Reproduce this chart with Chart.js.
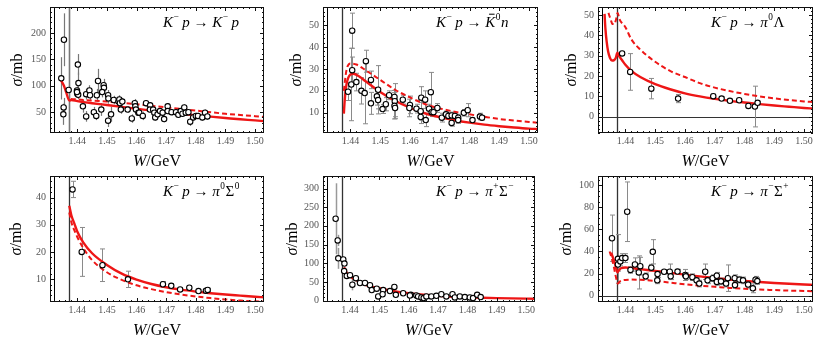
<!DOCTYPE html>
<html>
<head>
<meta charset="utf-8">
<script src="https://cdn.jsdelivr.net/npm/chart.js@4"></script>
<style>
  html, body { margin: 0; padding: 0; background: #fff; }
  body { position: relative; width: 822px; height: 339px; overflow: hidden; }
  canvas { position: absolute; }
</style>
</head>
<body>
<canvas id="c1"></canvas>
<canvas id="c2"></canvas>
<canvas id="c3"></canvas>
<canvas id="c4"></canvas>
<canvas id="c5"></canvas>
<canvas id="c6"></canvas>
<script>
// ---- shared ----
const wMin = 1.4308, wMax = 1.5030;
const xTicks = [1.44, 1.45, 1.46, 1.47, 1.48, 1.49, 1.50];
const thresholds = [1.4320, 1.4373]; // K- p and Kbar0 n thresholds

// ---- K- p -> K- p ----
const kpW = [1.4346, 1.4355, 1.4354, 1.4353, 1.4371, 1.4402, 1.4404, 1.4399, 1.4400, 1.4403, 1.4399, 1.4419, 1.4430, 1.4430,
  1.4441, 1.4443, 1.4456, 1.4464, 1.4466, 1.4470, 1.4481, 1.4489, 1.4490, 1.4484, 1.4504, 1.4505, 1.4504, 1.4514, 1.4523,
  1.4539, 1.4542, 1.4544, 1.4547, 1.4552, 1.4570, 1.4584, 1.4594, 1.4596, 1.4598, 1.4606, 1.4609, 1.4621, 1.4632, 1.4646,
  1.4645, 1.4656, 1.4660, 1.4663, 1.4671, 1.4679, 1.4688, 1.4693, 1.4705, 1.4705, 1.4718, 1.4733, 1.4741, 1.4749, 1.4755,
  1.4761, 1.4766, 1.4775, 1.4781, 1.4791, 1.4800, 1.4807, 1.4822, 1.4831, 1.4839];
const kpSigma = [114, 187, 59, 46, 92, 140, 105, 91, 85, 83, 88, 61, 42, 84,
  91, 82, 50, 43, 82, 109, 55, 101, 96, 88, 82, 76, 34, 46, 73,
  70, 74, 67, 55, 70, 55, 38, 67, 61, 55, 49, 49, 43, 67, 63,
  55, 55, 49, 40, 46, 52, 49, 37, 61, 52, 50, 50, 45, 52, 47,
  59, 49, 50, 32, 40, 43, 43, 40, 49, 42];
const kpErr = [40, 50, 18, 20, 200, 20, 20, 8, 8, 8, 8, 12, 10, 10,
  10, 10, 10, 8, 12, 23, 12, 12, 12, 10, 10, 10, 12, 14, 8,
  8, 8, 8, 8, 6, 6, 8, 8, 6, 6, 6, 6, 8, 6, 6,
  6, 6, 6, 6, 6, 6, 6, 6, 6, 6, 6, 6, 6, 6, 6,
  6, 6, 6, 8, 6, 6, 6, 6, 6, 6];
const kpSolidW = [1.4341, 1.4355, 1.4363, 1.4373, 1.4380, 1.4400, 1.4450, 1.4500, 1.4550, 1.4600, 1.4650, 1.4700, 1.4750, 1.4800, 1.4850, 1.4900, 1.4950, 1.5000, 1.5030];
const kpSolid = [114, 100, 87, 72, 73, 71, 67, 63.5, 60, 56.5, 53, 50, 47, 44, 41.5, 39, 36.5, 34.5, 33];
const kpDashW = [1.4378, 1.4400, 1.4500, 1.4600, 1.4700, 1.4800, 1.4900, 1.5000, 1.5030];
const kpDash = [75, 74, 70, 65, 59, 53, 47, 42.5, 41];
const kpTicks = [50, 100, 150, 200];

// ---- K- p -> Kbar0 n ----
const knW = [1.4392, 1.4406, 1.4406, 1.4403, 1.4420, 1.4437, 1.4448, 1.4452, 1.4469, 1.4469, 1.4489, 1.4493, 1.4493, 1.4508,
  1.4519, 1.4530, 1.4548, 1.4549, 1.4548, 1.4550, 1.4576, 1.4600, 1.4598, 1.4622, 1.4638, 1.4636, 1.4636, 1.4651, 1.4653,
  1.4670, 1.4664, 1.4673, 1.4679, 1.4692, 1.4707, 1.4721, 1.4729, 1.4740, 1.4740, 1.4751, 1.4762, 1.4762, 1.4781, 1.4794,
  1.4810, 1.4835, 1.4842];
const knSigma = [19.6, 47.4, 29.4, 22.9, 24, 20, 19, 33.5, 25, 14.3, 17.5, 20.5, 15.8, 11.7,
  13.9, 18, 17.2, 15.3, 13.2, 12.2, 16, 13.6, 12.2, 11.9, 16.9, 10.7, 8.1, 16, 6.7,
  19.4, 11.9, 10.3, 10.3, 12.2, 7.8, 9.3, 8.6, 8.8, 5.4, 8.6, 7.8, 6.7, 10, 11.2,
  6.7, 8.3, 7.8];
const knErr = [4, 8, 6, 16.5, 4, 6, 14, 5, 4, 5, 4, 11, 4, 2,
  3, 2, 3, 8, 6, 4, 2, 4, 4, 2, 5, 4, 3, 4, 3,
  9, 2, 2, 2, 2, 2, 1.5, 1.5, 1.5, 1.5, 1.5, 1.5, 1.5, 1.5, 3,
  1, 1.5, 1];
const knSolidW = [1.4378, 1.4380, 1.4383, 1.4387, 1.4393, 1.4400, 1.4410, 1.4430, 1.4450, 1.4500, 1.4550, 1.4600, 1.4650, 1.4700, 1.4750, 1.4800, 1.4850, 1.4900, 1.4950, 1.5000, 1.5030];
const knSolid = [9.6, 14, 19, 23, 26, 27.5, 27.8, 26.5, 24.5, 19.5, 15.5, 12.3, 9.8, 8, 6.6, 5.5, 4.6, 3.9, 3.3, 2.8, 2.6];
const knDashW = [1.4378, 1.4385, 1.4390, 1.4400, 1.4420, 1.4450, 1.4500, 1.4550, 1.4600, 1.4650, 1.4700, 1.4750, 1.4800, 1.4850, 1.4900, 1.4950, 1.5000, 1.5030];
const knDash = [20, 28, 31, 32.5, 32, 29.5, 25, 20.5, 17, 14, 12, 10.5, 9.3, 8.2, 7.2, 6.5, 5.8, 5.5];
const knTicks = [10, 20, 30, 40, 50];

// ---- K- p -> pi0 Lambda ----
const plW = [1.4389, 1.4416, 1.4487, 1.4577, 1.4695, 1.4723, 1.4751, 1.4782, 1.4813, 1.4835, 1.4844];
const plSigma = [31.1, 22, 13.8, 8.9, 10.1, 8.9, 7.8, 8.1, 5.3, 5.0, 6.8];
const plErr = [1, 9, 5, 2, 1, 0.8, 0.8, 0.8, 0.8, 10, 0.8];
const plSolidW = [1.4330, 1.4333, 1.4337, 1.4342, 1.4348, 1.4355, 1.4362, 1.4368, 1.4373, 1.4378, 1.4390, 1.4400, 1.4420, 1.4450, 1.4500, 1.4550, 1.4600, 1.4650, 1.4700, 1.4750, 1.4800, 1.4850, 1.4900, 1.4950, 1.5000, 1.5030];
const plSolid = [50.5, 43, 37, 32, 29, 27.6, 27.8, 29, 31.5, 30, 27.5, 25.5, 22.5, 19.5, 16, 13.5, 11.5, 10, 8.8, 7.8, 7, 6.2, 5.5, 4.9, 4.3, 4];
const plDashW = [1.4343, 1.4350, 1.4357, 1.4363, 1.4369, 1.4374, 1.4380, 1.4400, 1.4420, 1.4450, 1.4500, 1.4550, 1.4600, 1.4650, 1.4700, 1.4750, 1.4800, 1.4850, 1.4900, 1.4950, 1.5000, 1.5030];
const plDash = [51, 48, 45.5, 45.5, 48, 51, 48, 44, 38, 33, 27, 22.5, 19.5, 16.5, 14.3, 12.6, 11.2, 10, 9, 8.2, 7.5, 7.2];
const plTicks = [0, 10, 20, 30, 40, 50];

// ---- K- p -> pi0 Sigma0 ----
const psW = [1.4384, 1.4415, 1.4485, 1.4571, 1.4689, 1.4717, 1.4747, 1.4778, 1.4809, 1.4834, 1.4840];
const psSigma = [43, 20, 15.1, 9.9, 8.1, 7.5, 6.2, 6.8, 5.6, 5.7, 6.0];
const psErr = [3, 9, 6, 3, 1, 0.8, 0.6, 0.8, 0.6, 0.6, 0.6];
const psCurveW = [1.4373, 1.4380, 1.4390, 1.4400, 1.4420, 1.4450, 1.4500, 1.4550, 1.4600, 1.4650, 1.4700, 1.4750, 1.4800, 1.4850, 1.4900, 1.4950, 1.5000, 1.5030];
const psSolid = [37, 33.5, 30.5, 27.5, 23.5, 19.5, 15.2, 12, 9.8, 8.2, 7, 6.1, 5.4, 4.8, 4.3, 3.9, 3.5, 3.3];
const psDash = [34.5, 31, 28, 25.5, 21.5, 17, 12.5, 9.7, 7.7, 6.3, 5.2, 4.3, 3.6, 3, 2.5, 2.1, 1.8, 1.7];
const psTicks = [10, 20, 30, 40];

// ---- K- p -> pi+ Sigma- ----
const pmW = [1.4351, 1.4358, 1.4360, 1.4377, 1.4381, 1.4380, 1.4389, 1.4400, 1.4408, 1.4420, 1.4434, 1.4451, 1.4468, 1.4474,
  1.4491, 1.4496, 1.4513, 1.4511, 1.4536, 1.4551, 1.4556, 1.4581, 1.4607, 1.4604, 1.4626, 1.4632, 1.4643, 1.4651, 1.4660,
  1.4677, 1.4694, 1.4711, 1.4728, 1.4749, 1.4757, 1.4774, 1.4791, 1.4808, 1.4819, 1.4833, 1.4845];
const pmSigma = [219, 161, 113, 110, 99, 79, 66, 68, 42.5, 60, 47, 47, 41, 28,
  32, 11, 28, 17, 25.5, 36.6, 15.3, 19.6, 15.3, 13.6, 13.6, 11, 8.5, 6.8, 11,
  11, 12.8, 17, 11, 17, 8.5, 11, 9.4, 8.5, 6.8, 15.3, 9.4];
const pmErr = [95, 15, 28, 6, 6, 6, 5, 5, 15, 5, 5, 8, 5, 5,
  4, 4, 4, 4, 4, 5, 4, 3, 3, 3, 3, 3, 3, 3, 3,
  3, 3, 3, 3, 6, 3, 3, 3, 3, 3, 3, 3];
const pmSolidW = [1.4380, 1.4385, 1.4390, 1.4400, 1.4420, 1.4450, 1.4500, 1.4550, 1.4600, 1.4650, 1.4700, 1.4750, 1.4800, 1.4850, 1.4900, 1.4950, 1.5000, 1.5030];
const pmSolid = [89, 80, 73, 65, 55, 43, 33, 25, 19.5, 15.5, 12.5, 10.3, 8.7, 7.5, 6.6, 5.9, 5.3, 5];
const pmTicks = [0, 50, 100, 150, 200, 250, 300];

// ---- K- p -> pi- Sigma+ ----
const ppW = [1.4355, 1.4375, 1.4375, 1.4383, 1.4389, 1.4400, 1.4406, 1.4417, 1.4432, 1.4445, 1.4450, 1.4468, 1.4487, 1.4492,
  1.4507, 1.4508, 1.4530, 1.4549, 1.4552, 1.4575, 1.4601, 1.4603, 1.4625, 1.4639, 1.4648, 1.4668, 1.4676, 1.4693, 1.4707,
  1.4707, 1.4721, 1.4738, 1.4744, 1.4767, 1.4768, 1.4783, 1.4795, 1.4812, 1.4828, 1.4837, 1.4843];
const ppSigma = [52, 28.2, 33.3, 31, 34, 34, 76, 23.3, 28.2, 21, 26.7, 17.5, 25.3, 39.7,
  13.8, 19.5, 21.6, 21.6, 17.5, 21.8, 18.7, 17.5, 16.7, 13.8, 10.9, 21.6, 13.8, 15.8, 18,
  12.4, 12.9, 10.9, 15.8, 15.8, 9.5, 14.4, 13.8, 10, 6.6, 14.4, 13.2];
const ppErr = [21, 6, 22, 4, 4, 4, 27, 3, 6, 15, 8, 3, 3, 11,
  3, 3, 2, 7, 3, 2, 5, 3, 3, 3, 3, 7, 3, 3, 3,
  3, 3, 3, 12, 3, 3, 3, 3, 3, 4, 3, 3];
const ppSolidW = [1.4352, 1.4360, 1.4367, 1.4373, 1.4377, 1.4385, 1.4400, 1.4420, 1.4450, 1.4500, 1.4550, 1.4600, 1.4650, 1.4700, 1.4750, 1.4800, 1.4850, 1.4900, 1.4950, 1.5000, 1.5030];
const ppSolid = [39, 33, 27, 21, 22.5, 24.8, 25.5, 25, 24, 22.4, 20.7, 19, 17.4, 15.8, 14.5, 13.3, 12.3, 11.4, 10.7, 10, 9.7];
const ppDashW = [1.4347, 1.4355, 1.4362, 1.4368, 1.4375, 1.4380, 1.4390, 1.4400, 1.4420, 1.4450, 1.4500, 1.4550, 1.4600, 1.4650, 1.4700, 1.4750, 1.4800, 1.4850, 1.4900, 1.4950, 1.5000, 1.5030];
const ppDash = [40, 33, 25, 17, 11, 12.5, 13.8, 14.2, 14.5, 14.3, 13.3, 11.8, 10.3, 9, 8, 7, 6.2, 5.5, 5, 4.5, 4.2, 4];
const ppTicks = [0, 20, 40, 60, 80, 100];

// ---- drawing helpers ----
const RED = 'rgb(238,22,22)';
const SERIF = '"Liberation Serif", "Times New Roman", serif';
const pts = (xs, ys) => xs.map((x, i) => ({ x: x, y: ys[i] }));

function drawRich(ctx, segs, x, y, size, align) {
  const parts = segs.map(([t, s]) => {
    const sup = s === 'u';
    const fs = sup ? size * 0.62 : size;
    const font = (s === 'i' || s === 'b' ? 'italic ' : '') + fs + 'px ' + SERIF;
    ctx.font = font;
    return { t, s, font, w: ctx.measureText(t).width + (sup ? 1 : 0), dy: sup ? -size * 0.36 : 0 };
  });
  const total = parts.reduce((a, p) => a + p.w, 0);
  let cx = align === 'center' ? x - total / 2 : x;
  ctx.textBaseline = 'middle';
  ctx.textAlign = 'left';
  parts.forEach(p => {
    ctx.font = p.font;
    ctx.fillText(p.t, cx + (p.s === 'u' ? 0.5 : 0), y + p.dy);
    if (p.s === 'b') {
      // overbar for the antikaon
      ctx.fillRect(cx + p.w * 0.38, y - size * 0.62, p.w * 0.55, 1);
    }
    cx += p.w;
  });
}

const panelPlugin = {
  id: 'panel',
  beforeDatasetsDraw(chart, args, o) {
    const { ctx, chartArea: a, scales: { x, y } } = chart;
    ctx.save();
    ctx.beginPath();
    ctx.rect(a.left, a.top, a.right - a.left, a.bottom - a.top);
    ctx.clip();
    // threshold lines and zero axis
    thresholds.forEach((w, i) => {
      const px = Math.round(x.getPixelForValue(w)) + 0.5;
      ctx.strokeStyle = i === 0 ? '#000' : '#333';
      ctx.lineWidth = i === 0 ? 1 : 1.3;
      ctx.beginPath(); ctx.moveTo(px, a.top); ctx.lineTo(px, a.bottom); ctx.stroke();
    });
    if (o.zeroLine) {
      const py = Math.round(y.getPixelForValue(0)) + 0.5;
      ctx.strokeStyle = '#333'; ctx.lineWidth = 1.2;
      ctx.beginPath(); ctx.moveTo(a.left, py); ctx.lineTo(a.right, py); ctx.stroke();
    }
    // error bars
    ctx.strokeStyle = o.errColor;
    ctx.lineWidth = o.errWidth;
    chart.data.datasets.forEach(ds => {
      if (!ds.errors) return;
      ds.data.forEach((p, i) => {
        const e = ds.errors[i];
        const px = Math.round(x.getPixelForValue(p.x)) + 0.5;
        const y1 = y.getPixelForValue(p.y + e), y2 = y.getPixelForValue(p.y - e);
        ctx.beginPath(); ctx.moveTo(px, y1); ctx.lineTo(px, y2);
        if (o.caps) {
          ctx.moveTo(px - 2.5, y1); ctx.lineTo(px + 2.5, y1);
          ctx.moveTo(px - 2.5, y2); ctx.lineTo(px + 2.5, y2);
        }
        ctx.stroke();
      });
    });
    ctx.restore();
  },
  afterDraw(chart, args, o) {
    const { ctx, chartArea: a, scales: { x, y } } = chart;
    ctx.save();
    ctx.strokeStyle = '#111';
    ctx.lineWidth = 1;
    ctx.strokeRect(a.left + 0.5, a.top + 0.5, a.right - a.left - 1, a.bottom - a.top - 1);
    // frame ticks pointing inward, all four sides
    const tick = (x1, y1, x2, y2) => { ctx.moveTo(x1, y1); ctx.lineTo(x2, y2); };
    ctx.beginPath();
    const near = (v, arr) => arr.some(t => Math.abs(t - v) < 1e-7);
    for (let k = Math.ceil(x.min / 0.002); k * 0.002 <= x.max; k++) {
      const v = k * 0.002;
      const len = near(v, xTicks) ? 4 : 2;
      const px = Math.round(x.getPixelForValue(v)) + 0.5;
      tick(px, a.bottom, px, a.bottom - len);
      tick(px, a.top, px, a.top + len);
    }
    for (let k = Math.ceil(y.min / o.yMinor); k * o.yMinor <= y.max; k++) {
      const v = k * o.yMinor;
      const len = near(v, o.yTicks) ? 4 : 2;
      const py = Math.round(y.getPixelForValue(v)) + 0.5;
      tick(a.left, py, a.left + len, py);
      tick(a.right, py, a.right - len, py);
    }
    ctx.stroke();
    // titles
    ctx.fillStyle = '#000';
    drawRich(ctx, o.label, a.left + 113, a.top + 16, 15, 'left');
    drawRich(ctx, [['W', 'i'], ['/GeV', 'r']], (a.left + a.right) / 2, a.bottom + 29, 16, 'center');
    ctx.translate(a.left - o.sigmaOffset, (a.top + a.bottom) / 2);
    ctx.rotate(-Math.PI / 2);
    drawRich(ctx, [['σ', 'i'], ['/mb', 'r']], 0, 0, 16, 'center');
    ctx.restore();
  }
};

function makePanel(id, box, cfg) {
  const cv = document.getElementById(id);
  const w = box.r - box.l + 50 + 6, h = box.b - box.t + 3 + 36;
  cv.width = w; cv.height = h;
  cv.style.left = (box.l - 50) + 'px';
  cv.style.top = (box.t - 3) + 'px';
  const datasets = [{
    type: 'scatter',
    data: pts(cfg.w, cfg.sigma),
    errors: cfg.err,
    pointRadius: 2.7,
    pointBorderWidth: 1.1,
    pointBorderColor: '#000',
    pointBackgroundColor: '#fff',
    order: 0
  }];
  if (cfg.solid) datasets.push({
    type: 'line', data: pts(cfg.solid[0], cfg.solid[1]),
    borderColor: RED, borderWidth: 2.4, pointRadius: 0,
    cubicInterpolationMode: 'monotone', clip: 0, order: 1
  });
  if (cfg.dash) datasets.push({
    type: 'line', data: pts(cfg.dash[0], cfg.dash[1]),
    borderColor: RED, borderWidth: 2, borderDash: [5, 3], pointRadius: 0,
    cubicInterpolationMode: 'monotone', clip: 0, order: 2
  });
  const tickFont = { family: SERIF, size: 10 };
  new Chart(cv, {
    type: 'scatter',
    data: { datasets },
    plugins: [panelPlugin],
    options: {
      responsive: false,
      animation: false,
      events: [],
      layout: { padding: { top: 3, right: 6, left: 0, bottom: 0 } },
      plugins: {
        legend: { display: false },
        tooltip: { enabled: false },
        panel: {
          label: cfg.label, yTicks: cfg.yTicks, yMinor: cfg.yMinor, zeroLine: cfg.zeroLine,
          caps: cfg.caps, errColor: cfg.errColor, errWidth: cfg.errWidth, sigmaOffset: cfg.sigmaOffset
        }
      },
      scales: {
        x: {
          type: 'linear', min: wMin, max: wMax,
          grid: { display: false, drawTicks: false }, border: { display: false },
          afterBuildTicks: s => { s.ticks = xTicks.map(v => ({ value: v })); },
          afterFit: s => { s.height = 36; },
          ticks: { autoSkip: false, maxRotation: 0, padding: 2, color: '#555', font: tickFont,
                   callback: v => v.toFixed(2) }
        },
        y: {
          type: 'linear', min: cfg.yRange[0], max: cfg.yRange[1],
          grid: { display: false, drawTicks: false }, border: { display: false },
          afterBuildTicks: s => { s.ticks = cfg.yTicks.map(v => ({ value: v })); },
          afterFit: s => { s.width = 50; },
          ticks: { autoSkip: false, padding: 4, color: '#555', font: tickFont,
                   callback: v => String(v) }
        }
      }
    }
  });
}

const lblKp = [['K', 'i'], ['\u2212', 'u'], ['\u2009p', 'i'], [' \u2192 ', 'r']];

makePanel('c1', { l: 50, t: 0, r: 264, b: 133 }, {
  w: kpW, sigma: kpSigma, err: kpErr, solid: [kpSolidW, kpSolid], dash: [kpDashW, kpDash],
  yRange: [10.6, 249], yTicks: kpTicks, yMinor: 10, caps: false, errColor: '#777', errWidth: 1.2,
  sigmaOffset: 32, label: lblKp.concat([['K', 'i'], ['\u2212', 'u'], ['\u2009p', 'i']])
});
makePanel('c2', { l: 323, t: 0, r: 538, b: 133 }, {
  w: knW, sigma: knSigma, err: knErr, solid: [knSolidW, knSolid], dash: [knDashW, knDash],
  yRange: [0.8, 58.2], yTicks: knTicks, yMinor: 2, caps: true, errColor: '#8a8a8a', errWidth: 1,
  sigmaOffset: 26, label: lblKp.concat([['K', 'b'], ['0', 'u'], ['n', 'i']])
});
makePanel('c3', { l: 598, t: 0, r: 813, b: 133 }, {
  w: plW, sigma: plSigma, err: plErr, solid: [plSolidW, plSolid], dash: [plDashW, plDash],
  yRange: [-8, 53.9], yTicks: plTicks, yMinor: 2, zeroLine: true, caps: true, errColor: '#8a8a8a', errWidth: 1,
  sigmaOffset: 26, label: lblKp.concat([['\u03c0', 'i'], ['0', 'u'], ['\u039b', 'r']])
});
makePanel('c4', { l: 50, t: 169, r: 264, b: 302 }, {
  w: psW, sigma: psSigma, err: psErr, solid: [psCurveW, psSolid], dash: [psCurveW, psDash],
  yRange: [1.56, 47.95], yTicks: psTicks, yMinor: 2, caps: true, errColor: '#8a8a8a', errWidth: 1,
  sigmaOffset: 33, label: lblKp.concat([['\u03c0', 'i'], ['0', 'u'], ['\u03a3', 'r'], ['0', 'u']])
});
makePanel('c5', { l: 323, t: 169, r: 535, b: 302 }, {
  w: pmW, sigma: pmSigma, err: pmErr, solid: [pmSolidW, pmSolid],
  yRange: [-3.8, 333.5], yTicks: pmTicks, yMinor: 10, zeroLine: true, caps: false, errColor: '#999', errWidth: 1.5,
  sigmaOffset: 30, label: lblKp.concat([['\u03c0', 'i'], ['+', 'u'], ['\u03a3', 'r'], ['\u2212', 'u']])
});
makePanel('c6', { l: 598, t: 169, r: 813, b: 302 }, {
  w: ppW, sigma: ppSigma, err: ppErr, solid: [ppSolidW, ppSolid], dash: [ppDashW, ppDash],
  yRange: [-5.8, 108.4], yTicks: ppTicks, yMinor: 5, zeroLine: true, caps: true, errColor: '#8a8a8a', errWidth: 1,
  sigmaOffset: 31, label: lblKp.concat([['\u03c0', 'i'], ['\u2212', 'u'], ['\u03a3', 'r'], ['+', 'u']])
});
</script>
</body>
</html>
